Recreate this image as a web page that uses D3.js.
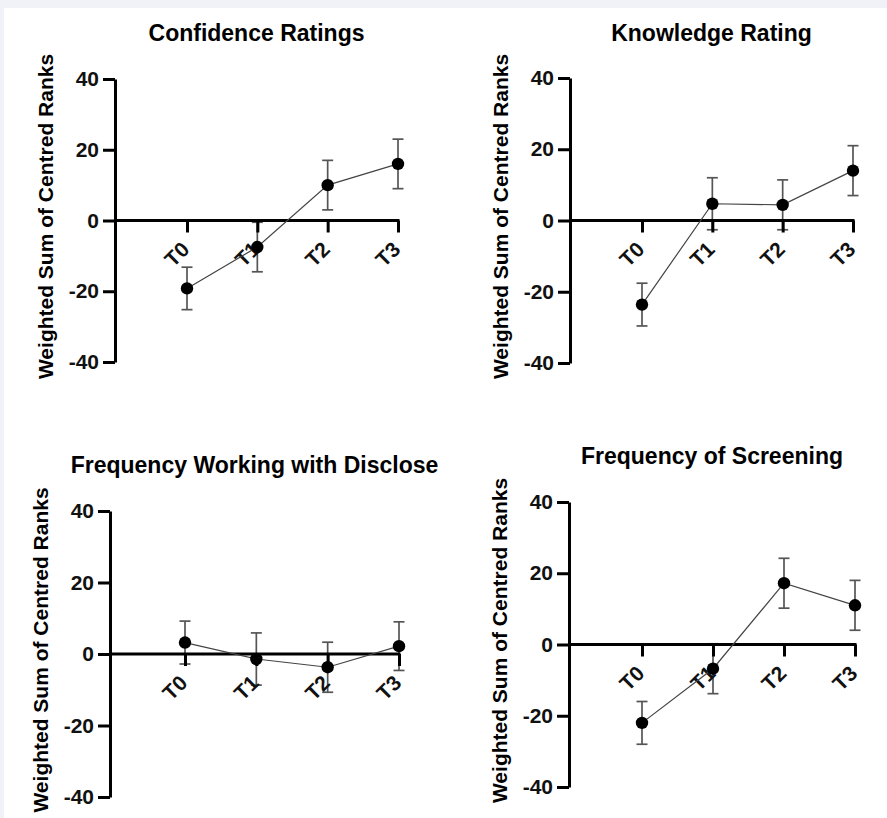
<!DOCTYPE html><html><head><meta charset="UTF-8"><script src="https://d3js.org/d3.v7.min.js"></script><style>
  html, body { margin: 0; padding: 0; background: #f1f2f7; }
  svg { display: block; font-family: "Liberation Sans", Arial, sans-serif; }
  .tick text { font-weight: bold; }
</style></head><body><div id="chart"></div><script>
const categories = ["T0", "T1", "T2", "T3"];
const yTicks = [40, 20, 0, -20, -40];
const yLabel = "Weighted Sum of Centred Ranks";

const titles = ["Confidence Ratings", "Knowledge Rating", "Frequency Working with Disclose", "Frequency of Screening"];
const confidenceMean = [-19.2, -7.5, 10, 16];
const confidenceErr = [6, 7, 7, 7];
const knowledgeMean = [-23.6, 4.7, 4.4, 14];
const knowledgeErr = [6, 7.3, 7, 7];
const discloseMean = [3.2, -1.4, -3.7, 2.2];
const discloseErr = [6, 7.3, 7, 6.8];
const screeningMean = [-22, -6.8, 17.2, 11];
const screeningErr = [6, 7, 7, 7];

const means = [confidenceMean, knowledgeMean, discloseMean, screeningMean];
const errs = [confidenceErr, knowledgeErr, discloseErr, screeningErr];

// panel frames: y-axis x, first/last category x, top (40) / bottom (-40) y, title baseline
const panels = [
  {ax: 115, x0: 187, x3: 398, top: 79, bot: 362, ty: 41},
  {ax: 570, x0: 642, x3: 853, top: 78, bot: 363, ty: 41},
  {ax: 110, x0: 185, x3: 399, top: 511, bot: 797, ty: 473},
  {ax: 569, x0: 642, x3: 855, top: 502, bot: 787, ty: 464}
];

const svg = d3.select('#chart').append('svg')
  .attr('width', 887).attr('height', 818);

svg.append('rect').attr('x', 4).attr('y', 8).attr('width', 883).attr('height', 810).attr('fill', '#fff');

panels.forEach((p, i) => {
  const g = svg.append('g');
  const x = d3.scalePoint().domain(categories).range([p.x0, p.x3]);
  const y = d3.scaleLinear().domain([-40, 40]).range([p.bot, p.top]);
  const data = categories.map((c, j) => ({c: c, m: means[i][j], e: errs[i][j]}));

  g.append('text')
    .attr('x', (p.ax + p.x3) / 2).attr('y', p.ty)
    .attr('text-anchor', 'middle')
    .style('font-size', '23px').style('font-weight', 'bold')
    .text(titles[i]);

  g.append('text')
    .attr('transform', `translate(${p.ax - 62},${(p.top + p.bot) / 2 - 4}) rotate(-90)`)
    .attr('text-anchor', 'middle')
    .style('font-size', '21px').style('font-weight', 'bold')
    .text(yLabel);

  // y axis
  const ya = g.append('g')
    .attr('transform', `translate(${p.ax},0)`)
    .call(d3.axisLeft(y).tickValues(yTicks).tickFormat(d => String(d))
      .tickSize(12).tickSizeOuter(0).tickPadding(4));
  ya.select('.domain').attr('stroke-width', 3);
  ya.selectAll('.tick line').attr('stroke-width', 3);
  ya.selectAll('.tick text').style('font-size', '21px').attr('fill', '#111');

  // error bars
  const eb = g.append('g').attr('stroke', '#555').attr('stroke-width', 1.7);
  eb.selectAll('.v').data(data).enter().append('line')
    .attr('x1', d => x(d.c)).attr('x2', d => x(d.c))
    .attr('y1', d => y(d.m + d.e)).attr('y2', d => y(d.m - d.e));
  eb.selectAll('.cap').data(data.flatMap(d => [d.m + d.e, d.m - d.e].map(v => ({c: d.c, v: v}))))
    .enter().append('line')
    .attr('x1', d => x(d.c) - 5.5).attr('x2', d => x(d.c) + 5.5)
    .attr('y1', d => y(d.v)).attr('y2', d => y(d.v));

  // x axis at zero
  const xa = g.append('g')
    .attr('transform', `translate(0,${y(0)})`)
    .call(d3.axisBottom(x).tickSize(12).tickSizeOuter(0).tickPadding(6));
  xa.select('.domain').remove();
  xa.append('line').attr('x1', p.ax).attr('x2', p.x3 + 1.5)
    .attr('stroke', '#000').attr('stroke-width', 3);
  xa.selectAll('.tick line').attr('stroke-width', 3);
  xa.selectAll('.tick text')
    .style('font-size', '21px').attr('fill', '#111')
    .attr('text-anchor', 'end')
    .attr('dy', '0.35em')
    .attr('transform', 'translate(-2,25) rotate(-45)')
    .attr('y', 0).attr('x', 0);

  g.append('path').datum(data)
    .attr('fill', 'none').attr('stroke', '#444').attr('stroke-width', 1.2)
    .attr('d', d3.line().x(d => x(d.c)).y(d => y(d.m)));

  g.selectAll('.dot').data(data).enter().append('circle')
    .attr('cx', d => x(d.c)).attr('cy', d => y(d.m))
    .attr('r', 6.2).attr('fill', '#000');
});
</script></body></html>
